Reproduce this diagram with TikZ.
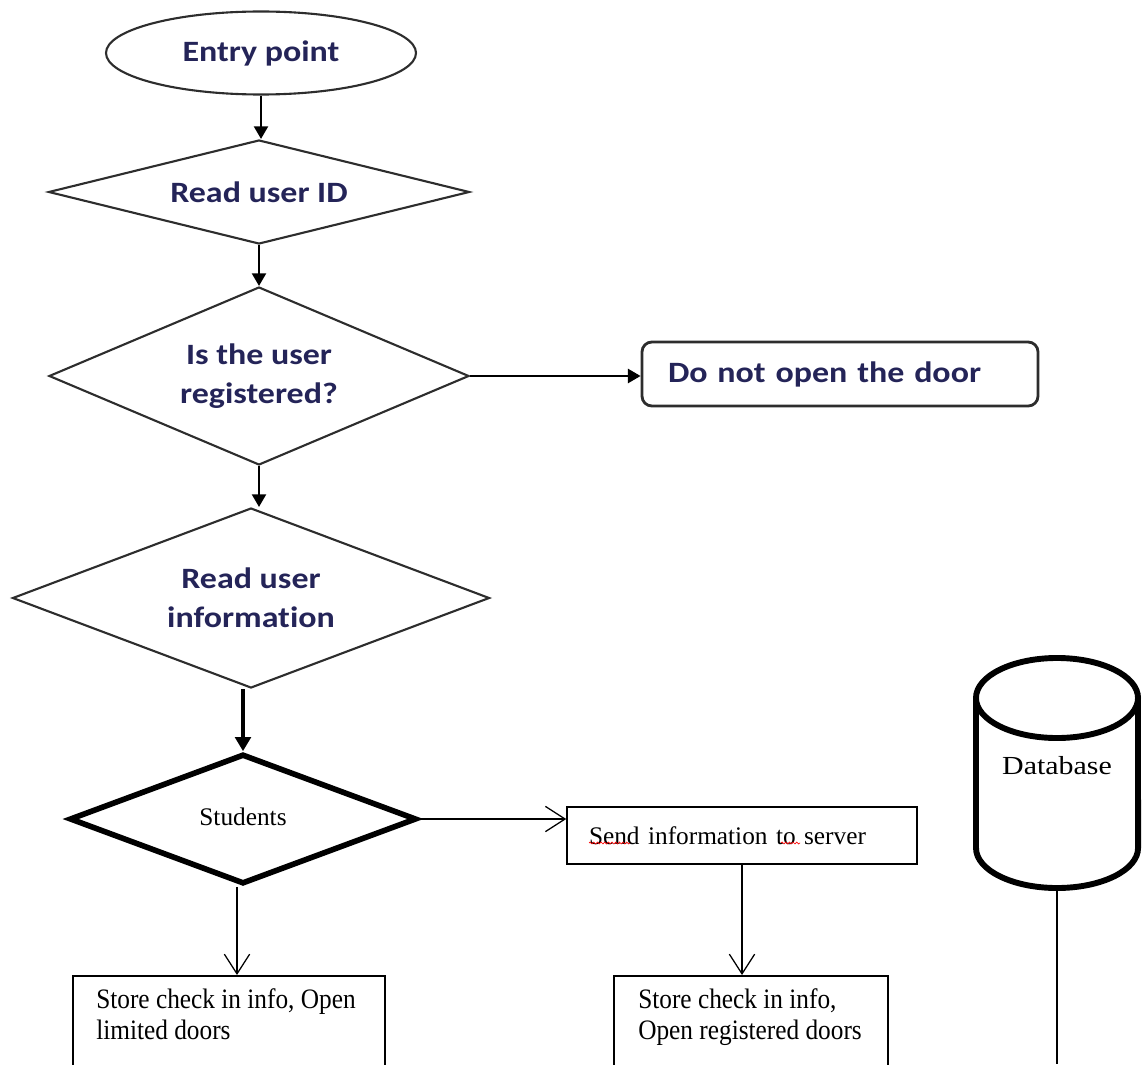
\documentclass[tikz,border=0pt]{standalone}
\usepackage{fontspec}
\setmainfont{Liberation Serif}
\newfontfamily\hdfont[FakeStretch=1.15,Ligatures=NoCommon]{Carlito}
\newfontfamily\widefont[FakeStretch=1.15]{Liberation Serif}
\newfontfamily\narrowfont[FakeStretch=0.9]{Liberation Serif}
\usetikzlibrary{shapes.geometric,arrows.meta,decorations.pathmorphing}
\definecolor{headink}{RGB}{36,36,88}
\definecolor{edgegray}{RGB}{45,45,45}
\newcommand\pxu{0.025cm}

\tikzset{
  flowedge/.style={draw=edgegray, line width=1.5pt},
  headtext/.style={font=\hdfont\bfseries\fontsize{21}{28}\selectfont, text=headink, align=center},
  startnode/.style={ellipse, flowedge, headtext, inner sep=0pt,
    minimum width=310*\pxu, minimum height=83*\pxu},
  decision/.style={diamond, flowedge, headtext, inner sep=0pt},
  roundbox/.style={rectangle, rounded corners=7pt, draw=edgegray, line width=2pt,
    headtext, align=left, inner sep=0pt},
  choice/.style={diamond, draw=black, line width=4pt, inner sep=0pt,
    font=\fontsize{18}{22}\selectfont},
  plainbox/.style={rectangle, draw=black, line width=1.1pt, inner sep=0pt},
  boxtext/.style={font=\narrowfont\fontsize{20}{22.5}\selectfont, align=left, inner sep=0pt},
  solid arrow/.style={-{Triangle[width=10pt,length=9pt]}, line width=1.6pt, draw=black},
  heavy arrow/.style={-{Triangle[width=11pt,length=10pt]}, line width=2.6pt, draw=black},
  open arrow/.style={-{Straight Barb[width=18pt,length=14pt]}, line width=0.9pt, draw=black},
  dbline/.style={line width=4.2pt, draw=black},
  spellmark/.style={draw=red, line width=0.45pt, decorate,
    decoration={snake, amplitude=0.7pt, segment length=2.6pt}}
}

\begin{document}
\begin{tikzpicture}[x=0.025cm, y=0.025cm]
\clip (0,0) rectangle (1142,-1064);

% upper part of the flow
\node[startnode] (entry) at (261,-53) {Entry point};
\node[decision, shape aspect=4, minimum width=421*\pxu, minimum height=104*\pxu]
  (readid) at (259,-192) {Read user ID};
\node[decision, shape aspect=2.36, minimum width=420*\pxu, minimum height=178*\pxu]
  (reg) at (259,-376) {Is the user\\registered?};
\node[roundbox, minimum width=396*\pxu, minimum height=64*\pxu, text width=344*\pxu]
  (noopen) at (840,-374) {Do not open the door};
\node[decision, shape aspect=2.65, minimum width=477*\pxu, minimum height=180*\pxu]
  (readinfo) at (251,-598) {Read user\\information};

% lower part of the flow
\node[choice, shape aspect=2.67, minimum width=347*\pxu, minimum height=130*\pxu]
  (students) at (243,-819) {\raisebox{3pt}{Students}};
\node[plainbox, minimum width=350*\pxu, minimum height=57*\pxu, text width=306*\pxu,
  align=left, font=\fontsize{18}{22}\selectfont]
  (send) at (742,-835.5) {Send information to server};
\node[plainbox, anchor=north, minimum width=312*\pxu, minimum height=150*\pxu]
  (storeL) at (229,-975) {};
\node[boxtext, anchor=north west] (storeLtext) at (96,-988)
  {Store check in info, Open\\limited doors};
\node[plainbox, anchor=north, minimum width=274*\pxu, minimum height=150*\pxu]
  (storeR) at (751,-975) {};
\node[boxtext, anchor=north west] (storeRtext) at (638,-988)
  {Store check in info,\\Open registered doors};

% spelling marks under two words of the server box
\draw[spellmark] (589,-843) -- (630,-843);
\draw[spellmark] (781,-843) -- (800,-843);

% database cylinder
\coordinate (dbtop) at (1057,-698);
\coordinate (dbbase) at (1057,-888);
\coordinate (dbtail) at (1057,-1064);
\draw[dbline] (976,-698) -- (976,-848)
  arc[start angle=180, end angle=360, x radius=2.025cm, y radius=1cm] -- (1138,-698);
\draw[dbline] (dbtop) ellipse[x radius=2.025cm, y radius=1cm];
\node[font=\widefont\fontsize{18.5}{22}\selectfont] (dblabel) at (1057,-766) {Database};

% connectors
\draw[solid arrow] (entry.south) -- (entry.south |- readid.north);
\draw[solid arrow] (readid.south) -- (readid.south |- reg.north);
\draw[solid arrow] (reg.east) -- (reg.east -| noopen.west);
\draw[solid arrow] (reg.south) -- (reg.south |- readinfo.north);
\draw[heavy arrow] (students.north |- readinfo.south) -- (students.north);
\draw[open arrow] (students.east) -- (students.east -| send.west);
\draw[open arrow] ([xshift=-6*\pxu]students.south) -- ([xshift=-6*\pxu]students.south |- storeL.north);
\draw[open arrow] (send.south) -- (send.south |- storeR.north);
\draw[line width=0.9pt] (dbbase) -- (dbtail);
\end{tikzpicture}
\end{document}
